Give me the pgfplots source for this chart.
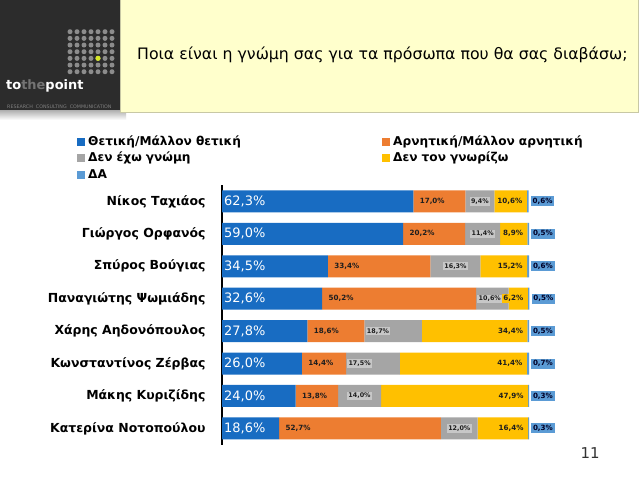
\documentclass[border=0pt]{standalone}
\usepackage{fontspec}
\setmainfont{DejaVu Sans}
\usepackage{pgfplots}
\usepackage{pgfplotstable}
\pgfplotsset{compat=1.18}

\definecolor{posblue}{RGB}{24,108,194}
\definecolor{negorange}{RGB}{237,125,49}
\definecolor{nogray}{RGB}{165,165,165}
\definecolor{unkyellow}{RGB}{255,192,0}
\definecolor{nablue}{RGB}{91,155,213}
\definecolor{headdark}{RGB}{44,44,44}
\definecolor{titlebg}{RGB}{255,255,204}
\definecolor{titleframe}{RGB}{200,200,165}
\definecolor{dotgray}{RGB}{140,140,140}
\definecolor{dotlime}{RGB}{214,232,40}
\definecolor{labtext}{RGB}{30,30,30}

% pos: 7 = top row ... 0 = bottom row
% ua: placement of the "no opinion" label (0 = centred, 1 = at segment start)
\pgfplotstableread{
pos P N U K D ua
7 62.3 17.0 9.4 10.6 0.6 0
6 59.0 20.2 11.4 8.9 0.5 0
5 34.5 33.4 16.3 15.2 0.6 0
4 32.6 50.2 10.6 6.2 0.5 1
3 27.8 18.6 18.7 34.4 0.5 1
2 26.0 14.4 17.5 41.4 0.7 1
1 24.0 13.8 14.0 47.9 0.3 0
0 18.6 52.7 12.0 16.4 0.3 0
}\opinions

\pgfplotsset{
  opinionaxis/.style={
    scale only axis, width=307bp, height=259.4bp,
    xmin=0, xmax=100, ymin=-0.5, ymax=7.5,
    clip=false, at={(222bp,35.4bp)}, anchor=south west},
  legsq/.style={legend image code/.code={\fill[##1,draw=none] (0bp,-4bp) rectangle (8bp,4bp); \path (10bp,0bp);}},
}
\tikzset{
  smalllab/.style={font=\bfseries\fontsize{7.2}{8}\selectfont, text=labtext, inner sep=1.3bp},
  graylab/.style={font=\bfseries\fontsize{6.4}{7}\selectfont, text=labtext, inner sep=1.3bp, fill=black!22},
}

\begin{document}
\begin{tikzpicture}
\path[use as bounding box] (0bp,0bp) rectangle (640bp,480bp);
\fill[white] (0bp,0bp) rectangle (640bp,480bp);

% header: logo block and question box
\shade[top color=black!35, bottom color=white] (0bp,360bp) rectangle (126bp,371bp);
\fill[headdark] (0bp,370bp) rectangle (120bp,480bp);
\foreach \i in {0,...,6}{
  \foreach \j in {0,...,6}{
    \fill[dotgray] (70bp+\i*7bp, 448.3bp-\j*6.67bp) circle (2.5bp);
  }
}
\fill[dotlime] (98bp,421.7bp) circle (2.6bp);
\node[anchor=base west, inner sep=0, font=\bfseries\fontsize{13}{13}\selectfont] at (6bp,390bp)
  {\textcolor{white}{to}\textcolor{black!55}{the}\textcolor{white}{point}};
\node[anchor=base west, inner sep=0, text=black!50, font=\fontsize{4.8}{5}\selectfont] at (7bp,371.5bp)
  {RESEARCH\ \ CONSULTING\ \ COMMUNICATION};
\filldraw[fill=titlebg, draw=titleframe, line width=0.8bp] (120bp,368bp) rectangle (638bp,480.5bp);
\node[anchor=west, inner sep=0, font=\fontsize{15.8}{18}\selectfont] at (137bp,425bp)
  {Ποια είναι η γνώμη σας για τα πρόσωπα που θα σας διαβάσω;};

% stacked bars
\begin{axis}[opinionaxis,
  xbar stacked, bar width=22bp,
  axis x line=none, axis y line*=left,
  y axis line style={line width=1.8bp, black},
  ytick={0,...,7}, major tick length=0,
  yticklabels={Κατερίνα Νοτοπούλου, Μάκης Κυριζίδης, Κωνσταντίνος Ζέρβας, Χάρης Αηδονόπουλος,
    Παναγιώτης Ψωμιάδης, Σπύρος Βούγιας, Γιώργος Ορφανός, Νίκος Ταχιάος},
  yticklabel style={font=\bfseries\fontsize{12.5}{15}\selectfont, xshift=-13bp},
  legend columns=2,
  legend style={at={(axis description cs:-0.482,1.205)}, anchor=north west,
    draw=none, fill=none, font=\bfseries\fontsize{12.2}{14}\selectfont,
    nodes={text width=293bp, align=left, inner sep=1bp, text height=10bp, text depth=3bp},
    row sep=1.5bp},
]
\addplot[fill=posblue, draw=none, legsq] table[x=P, y=pos]{\opinions};
\addlegendentry{Θετική/Μάλλον θετική}
\addplot[fill=negorange, draw=none, legsq] table[x=N, y=pos]{\opinions};
\addlegendentry{Αρνητική/Μάλλον αρνητική}
\addplot[fill=nogray, draw=none, legsq] table[x=U, y=pos]{\opinions};
\addlegendentry{Δεν έχω γνώμη}
\addplot[fill=unkyellow, draw=none, legsq] table[x=K, y=pos]{\opinions};
\addlegendentry{Δεν τον γνωρίζω}
\addplot[fill=nablue, draw=none, legsq] table[x=D, y=pos]{\opinions};
\addlegendentry{ΔΑ}
\end{axis}

% value labels
\begin{axis}[opinionaxis, hide axis,
  point meta=explicit,
  nodes near coords={\pgfmathprintnumber{\pgfplotspointmeta}\%},
  /pgf/number format/fixed, /pgf/number format/fixed zerofill,
  /pgf/number format/precision=1, /pgf/number format/use comma,
  /pgf/number format/assume math mode=true,
]
\addplot[only marks, mark=none, nodes near coords style={anchor=west, xshift=2bp, inner sep=0,
    text=white, font=\fontsize{13}{13}\selectfont}]
  table[x expr=0, y=pos, meta=P]{\opinions};
\addplot[only marks, mark=none, nodes near coords style={anchor=west, xshift=5bp, smalllab,
    fill=negorange}]
  table[x=P, y=pos, meta=N]{\opinions};
\addplot[only marks, mark=none, restrict expr to domain={\thisrow{ua}}{0:0},
    nodes near coords style={anchor=center, graylab}]
  table[x expr=\thisrow{P}+\thisrow{N}+0.5*\thisrow{U}, y=pos, meta=U]{\opinions};
\addplot[only marks, mark=none, restrict expr to domain={\thisrow{ua}}{1:1},
    nodes near coords style={anchor=west, xshift=1bp, graylab}]
  table[x expr=\thisrow{P}+\thisrow{N}, y=pos, meta=U]{\opinions};
\addplot[only marks, mark=none, nodes near coords style={anchor=east, xshift=-3bp, smalllab,
    fill=unkyellow}]
  table[x expr=\thisrow{P}+\thisrow{N}+\thisrow{U}+\thisrow{K}, y=pos, meta=K]{\opinions};
\addplot[only marks, mark=none, nodes near coords style={anchor=west, xshift=2bp, smalllab,
    fill=nablue, text=black!85!blue, inner sep=1.8bp}]
  table[x expr=\thisrow{P}+\thisrow{N}+\thisrow{U}+\thisrow{K}+\thisrow{D}, y=pos, meta=D]{\opinions};
\end{axis}

\node[font=\fontsize{15}{15}\selectfont, text=black!80] at (590bp,27bp) {11};
\end{tikzpicture}
\end{document}
